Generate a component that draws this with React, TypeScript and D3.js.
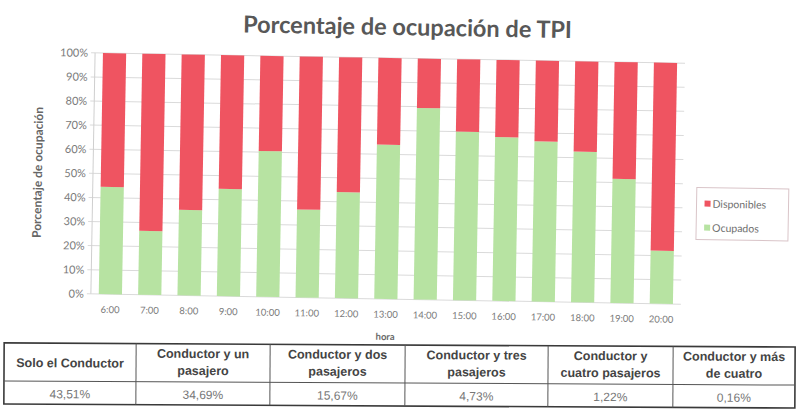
import { useEffect, useRef } from 'react';
import * as d3 from 'd3';

const horas = ['6:00', '7:00', '8:00', '9:00', '10:00', '11:00', '12:00', '13:00', '14:00', '15:00', '16:00', '17:00', '18:00', '19:00', '20:00'];
const ocupados = [44.5, 26.5, 35.5, 44.5, 60.5, 36.5, 44, 64, 79.5, 70, 68, 66.5, 62.5, 51.5, 22];
const disponibles = [55.5, 73.5, 64.5, 55.5, 39.5, 63.5, 56, 36, 20.5, 30, 32, 33.5, 37.5, 48.5, 78];
const yTicks = [0, 10, 20, 30, 40, 50, 60, 70, 80, 90, 100];

const tablaCabecera = [
  ['Solo el Conductor'],
  ['Conductor y un', 'pasajero'],
  ['Conductor y dos', 'pasajeros'],
  ['Conductor y tres', 'pasajeros'],
  ['Conductor y', 'cuatro pasajeros'],
  ['Conductor y más', 'de cuatro'],
];
const tablaValores = ['43,51%', '34,69%', '15,67%', '4,73%', '1,22%', '0,16%'];

const RED = '#ef5461';
const GREEN = '#b7e3a2';

export default function App() {
  const ref = useRef<SVGSVGElement>(null);

  useEffect(() => {
    if (!ref.current) return;
    const root = d3.select(ref.current);
    root.selectAll('*').remove();

    const m = { top: 58, left: 93, right: 123, bottom: 118 };
    const W = 806 - m.left - m.right;
    const H = 417 - m.top - m.bottom;

    // the photographed chart is tilted a little
    const chart = root.append('g').attr('transform', 'rotate(1, 388, 175)');

    chart.append('text').attr('x', 405).attr('y', 35).attr('text-anchor', 'middle')
      .attr('font-family', 'Lato, sans-serif').attr('font-weight', 700).attr('font-size', '23.5px')
      .attr('fill', '#585858').text('Porcentaje de ocupación de TPI');

    const g = chart.append('g').attr('transform', `translate(${m.left},${m.top})`);

    const x = d3.scaleBand().domain(horas).range([0, W]).paddingInner(0.41).paddingOuter(0.2);
    const y = d3.scaleLinear().domain([0, 100]).range([H, 0]);

    g.selectAll('.grid').data(yTicks).enter().append('line')
      .attr('x1', -4).attr('x2', W).attr('y1', d => y(d)).attr('y2', d => y(d))
      .attr('stroke', '#dadada').attr('stroke-width', 1);
    g.append('line').attr('x1', 0).attr('x2', 0).attr('y1', 0).attr('y2', H)
      .attr('stroke', '#cfcfcf');

    g.append('g')
      .call(d3.axisLeft(y).tickValues(yTicks).tickSize(0).tickPadding(7).tickFormat(d => `${d}%`))
      .attr('font-family', 'Lato, sans-serif').attr('font-size', '11px').attr('color', '#7a7a7a')
      .select('.domain').remove();

    g.append('g').attr('transform', `translate(0,${H})`)
      .call(d3.axisBottom(x).tickSize(0).tickPadding(12))
      .attr('font-family', 'Lato, sans-serif').attr('font-size', '9.5px').attr('color', '#7a7a7a')
      .select('.domain').remove();

    const rows = horas.map((h, i) => ({ hora: h, Ocupados: ocupados[i], Disponibles: disponibles[i] }));
    const series = d3.stack<any>().keys(['Ocupados', 'Disponibles'])(rows);
    const color = d3.scaleOrdinal<string>().domain(['Ocupados', 'Disponibles']).range([GREEN, RED]);

    g.selectAll('.serie').data(series).enter().append('g')
      .attr('fill', d => color(d.key))
      .selectAll('rect').data(d => d).enter().append('rect')
      .attr('x', d => x(d.data.hora) ?? 0).attr('width', x.bandwidth())
      .attr('y', d => y(d[1])).attr('height', d => y(d[0]) - y(d[1]));

    g.append('text').attr('x', W / 2).attr('y', H + 41).attr('text-anchor', 'middle')
      .attr('font-family', 'Lato, sans-serif').attr('font-weight', 700).attr('font-size', '9.5px')
      .attr('fill', '#6a6a6a').text('hora');

    g.append('text').attr('transform', `translate(-51,${H / 2}) rotate(-90)`).attr('text-anchor', 'middle')
      .attr('font-family', 'Lato, sans-serif').attr('font-weight', 700).attr('font-size', '12px')
      .attr('fill', '#666').text('Porcentaje de ocupación');

    // legend
    const lg = chart.append('g').attr('transform', 'translate(697,182)');
    lg.append('rect').attr('width', 92).attr('height', 52).attr('fill', 'white')
      .attr('stroke', '#d9c4c8').attr('stroke-width', 1);
    const items = [{ k: 'Disponibles', c: RED }, { k: 'Ocupados', c: GREEN }];
    items.forEach((it, i) => {
      lg.append('rect').attr('x', 8).attr('y', 13 + i * 24).attr('width', 6).attr('height', 6).attr('fill', it.c);
      lg.append('text').attr('x', 16).attr('y', 20 + i * 24)
        .attr('font-family', 'Lato, sans-serif').attr('font-size', '10.5px').attr('fill', '#707070').text(it.k);
    });

    // table under the chart
    const cols = [4, 136, 270, 405, 548, 673, 795];
    const tTop = 345, tMid = 383, tBot = 406;
    const tg = root.append('g').attr('transform', 'rotate(0.3, 400, 375)');
    tg.append('rect').attr('x', cols[0]).attr('y', tTop).attr('width', cols[6] - cols[0]).attr('height', tBot - tTop)
      .attr('fill', 'white').attr('stroke', '#3a3a3a').attr('stroke-width', 1.6);
    tg.append('line').attr('x1', cols[0]).attr('x2', cols[6]).attr('y1', tMid).attr('y2', tMid)
      .attr('stroke', '#555').attr('stroke-width', 1);
    cols.slice(1, -1).forEach(cx => {
      tg.append('line').attr('x1', cx).attr('x2', cx).attr('y1', tTop).attr('y2', tBot)
        .attr('stroke', '#555').attr('stroke-width', 1);
    });
    tablaCabecera.forEach((lines, i) => {
      const cx = (cols[i] + cols[i + 1]) / 2;
      lines.forEach((ln, j) => {
        const yy = lines.length === 1 ? 369 : 359 + j * 17;
        tg.append('text').attr('x', cx).attr('y', yy).attr('text-anchor', 'middle')
          .attr('font-family', 'Liberation Sans, Arial, sans-serif').attr('font-weight', 700)
          .attr('font-size', '12.5px').attr('fill', '#444').text(ln);
      });
      tg.append('text').attr('x', cx).attr('y', 400).attr('text-anchor', 'middle')
        .attr('font-family', 'Liberation Sans, Arial, sans-serif')
        .attr('font-size', '12px').attr('fill', '#777').text(tablaValores[i]);
    });
  }, []);

  return (
    <svg ref={ref} width={806} height={417}
      style={{ position: 'absolute', left: 0, top: 0, background: 'white' }} />
  );
}
